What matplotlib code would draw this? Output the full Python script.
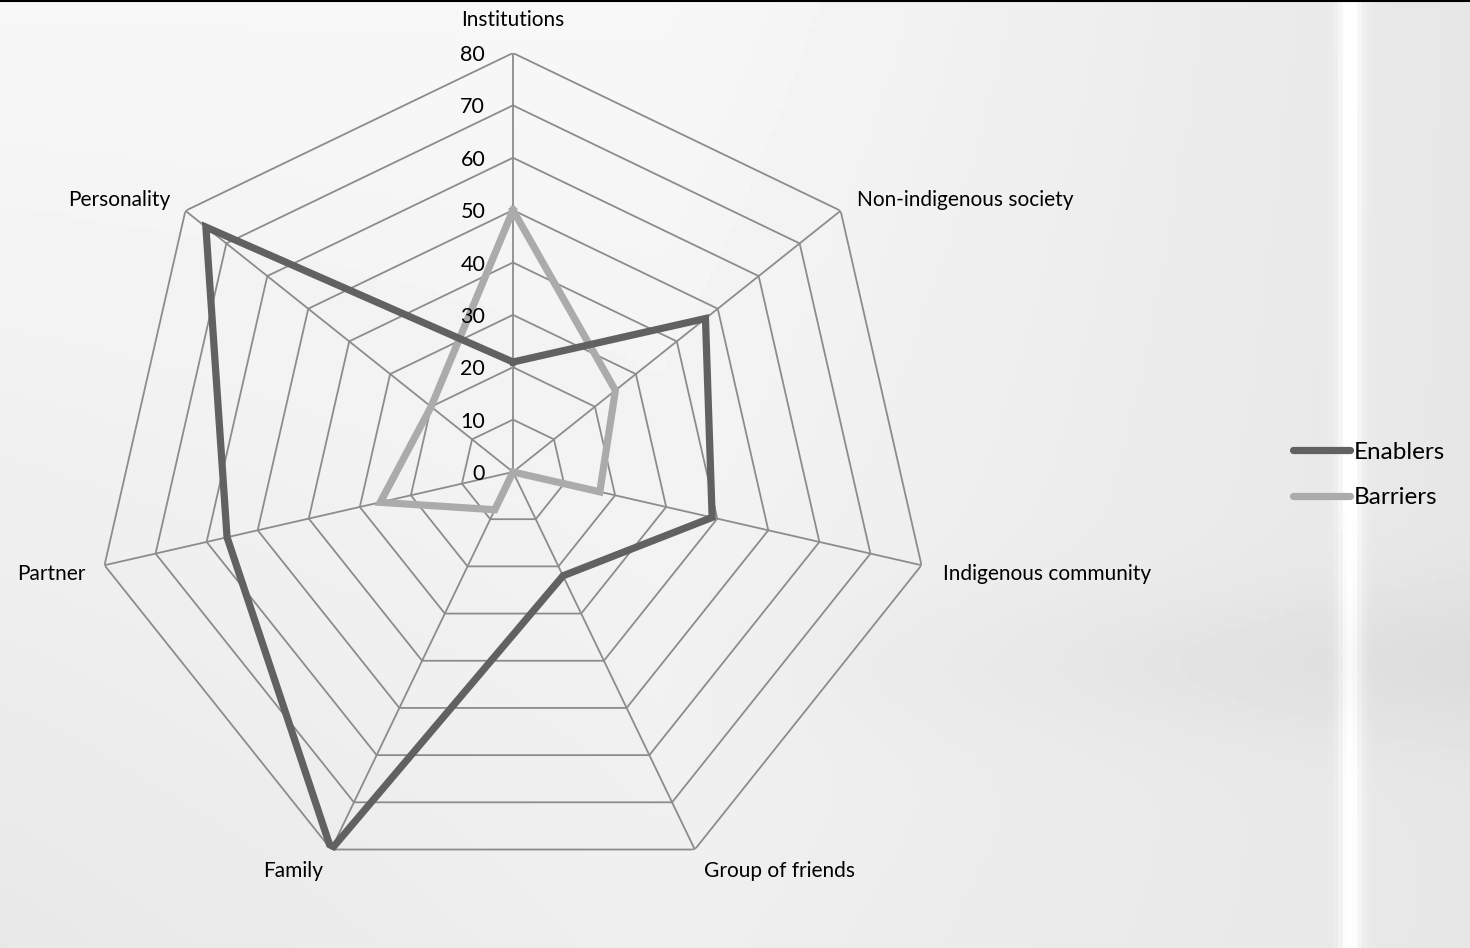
import numpy as np
import matplotlib
matplotlib.use("Agg")
import matplotlib.pyplot as plt

plt.rcParams['font.family'] = ['Lato', 'DejaVu Sans']

# chart data
categories = ["Institutions", "Non-indigenous society", "Indigenous community",
              "Group of friends", "Family", "Partner", "Personality"]
enablers = [21, 47, 39, 22, 80, 56, 75]
barriers = [50, 25, 17, 0, 8, 26, 20]
ring_values = [10, 20, 30, 40, 50, 60, 70, 80]
tick_labels = ["0", "10", "20", "30", "40", "50", "60", "70", "80"]

W, H = 1470, 948
fig = plt.figure(figsize=(W / 100, H / 100), dpi=100)

# soft gray background
bg = fig.add_axes([0, 0, 1, 1], zorder=-10)
yy, xx = np.mgrid[0:1:200j, 0:1:300j]
shade = 0.97 - 0.12 * np.clip(xx - 0.45, 0, 1) - 0.06 * yy * (1 - xx) \
    - 0.035 * np.exp(-((yy - 0.7) / 0.08) ** 2) * np.clip(xx - 0.45, 0, 1) * 2
band = np.exp(-((xx - 0.92) / 0.008) ** 2) * 0.1
shade = np.clip(shade + band, 0, 1)
bg.imshow(shade, cmap="gray", vmin=0, vmax=1, aspect="auto", extent=[0, 1, 0, 1])
bg.axhline(0.999, color="black", lw=1.5)
bg.set_xlim(0, 1)
bg.set_ylim(0, 1)
bg.axis("off")

# radar axes
cx, cy, R = 513, 472, 419
ax = fig.add_axes([(cx - R) / W, (H - cy - R) / H, 2 * R / W, 2 * R / H],
                  projection="polar")
ax.set_facecolor("none")
ax.set_theta_zero_location("N")
ax.set_theta_direction(-1)
ax.set_ylim(0, 80)
ax.grid(False)
ax.spines["polar"].set_visible(False)
ax.set_xticks([])
ax.set_yticks([])

n = len(categories)
angles = np.linspace(0, 2 * np.pi, n, endpoint=False)
closed = np.append(angles, angles[0])

grid_col = "#8c8c8c"
for r in ring_values:
    ax.plot(closed, [r] * (n + 1), color=grid_col, lw=1.3, zorder=1)
for a in angles:
    ax.plot([a, a], [0, 80], color=grid_col, lw=1.3, zorder=1)

ax.plot(closed, enablers + enablers[:1], color="#616161", lw=5.2,
        solid_joinstyle="miter", zorder=3, label="Enablers")
ax.plot(closed, barriers + barriers[:1], color="#ababab", lw=5.2,
        solid_joinstyle="miter", zorder=2, label="Barriers")

# radial tick labels along the top axis
for i, lab in enumerate(tick_labels):
    ax.annotate(lab, xy=(0, i * 10), xytext=(-20, -1.5), textcoords="offset points",
                ha="right", va="center", fontsize=15.5, color="black")

# category labels
label_pos = [
    dict(off=(0, 24), ha="center"),
    dict(off=(11.5, 8), ha="left"),
    dict(off=(15.5, -6), ha="left"),
    dict(off=(6.5, -15.5), ha="left"),
    dict(off=(-6, -15.5), ha="right"),
    dict(off=(-14, -6), ha="right"),
    dict(off=(-11, 8), ha="right"),
]
for a, name, p in zip(angles, categories, label_pos):
    ax.annotate(name, xy=(a, 80), xytext=p["off"], textcoords="offset points",
                ha=p["ha"], va="center", fontsize=15, color="black",
                annotation_clip=False)

leg = fig.legend(loc="center left", bbox_to_anchor=(1271 / W, 1 - 475 / H),
                 frameon=False, fontsize=17.5, handlelength=2.35,
                 handletextpad=0.15, labelspacing=1.0)
for line in leg.get_lines():
    line.set_solid_capstyle("round")
    line.set_linewidth(5.2)

fig.savefig("out.png", dpi=100)
